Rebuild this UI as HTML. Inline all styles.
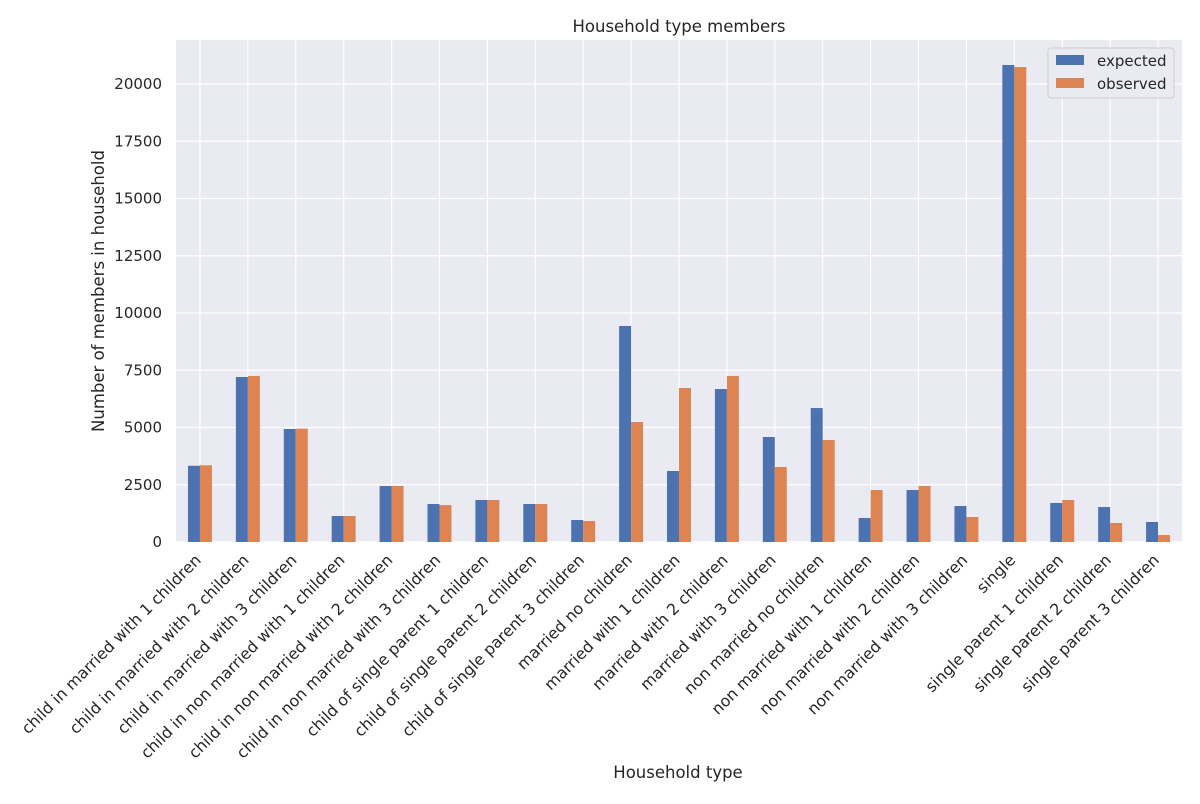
<!DOCTYPE html>
<html><head><meta charset="utf-8"><style>
body{margin:0;background:#fff;font-family:"DejaVu Sans","Liberation Sans",sans-serif;}
</style></head><body>
<svg id="chart" width="1200" height="800" xmlns="http://www.w3.org/2000/svg" font-family="DejaVu Sans, Liberation Sans, sans-serif">
<rect x="176" y="40" width="1006" height="502" fill="#eaeaf2"/>
<g id="grid"></g><g id="bars"></g><g id="ticks"></g>
<text x="679" y="32" text-anchor="middle" font-size="16.5" fill="#262626">Household type members</text>
<text x="678" y="778" text-anchor="middle" font-size="16.5" fill="#262626">Household type</text>
<text transform="translate(104,291) rotate(-90)" text-anchor="middle" font-size="16.5" fill="#262626">Number of members in household</text>
<g>
<rect x="1048" y="48" width="126" height="50" rx="3" fill="#eaeaf2" stroke="#ccc" opacity="0.9"/>
<rect x="1056" y="55" width="28" height="10" fill="#4c72b0"/>
<text x="1097" y="66" font-size="15" fill="#262626">expected</text>
<rect x="1056" y="78" width="28" height="10" fill="#dd8452"/>
<text x="1097" y="89" font-size="15" fill="#262626">observed</text>
</g>
</svg>
<script>
const categories=["child in married with 1 children","child in married with 2 children","child in married with 3 children","child in non married with 1 children","child in non married with 2 children","child in non married with 3 children","child of single parent 1 children","child of single parent 2 children","child of single parent 3 children","married no children","married with 1 children","married with 2 children","married with 3 children","non married no children","non married with 1 children","non married with 2 children","non married with 3 children","single","single parent 1 children","single parent 2 children","single parent 3 children"];
const expected=[3330,7205,4935,1135,2445,1660,1834,1660,960,9432,3100,6680,4585,5850,1048,2270,1572,20830,1703,1528,873];
const observed=[3350,7250,4950,1135,2445,1610,1834,1660,917,5240,6725,7250,3275,4455,2270,2445,1092,20740,1834,830,305];
const yTicks=[0,2500,5000,7500,10000,12500,15000,17500,20000];
const NS="http://www.w3.org/2000/svg";
const x0=176,x1=1182,yBase=542,pxPer=458/20000;
const y=v=>yBase-v*pxPer;
const step=(x1-x0)/categories.length;
const xc=i=>x0+step*(i+0.5);
function mk(t,a,p){const e=document.createElementNS(NS,t);for(const k in a)e.setAttribute(k,a[k]);p.appendChild(e);return e;}
const grid=document.getElementById('grid'),bars=document.getElementById('bars'),ticks=document.getElementById('ticks');
yTicks.forEach(v=>{
 const l=mk('line',{x1:x0,x2:x1,y1:y(v),y2:y(v),stroke:'#fff','stroke-width':1.2},grid);
 
 
 const t=mk('text',{x:x0-14,y:y(v)+5,'text-anchor':'end','font-size':15,fill:'#262626'},ticks);
 t.textContent=v;
 
 
});
const bw=step*0.25;
categories.forEach((c,i)=>{
 const l=mk('line',{x1:xc(i),x2:xc(i),y1:40,y2:yBase,stroke:'#fff','stroke-width':1.2},grid);
 
 
 const b1=mk('rect',{x:xc(i)-bw,y:y(expected[i]),width:bw,height:expected[i]*pxPer,fill:'#4c72b0'},bars);
 
 
 const b2=mk('rect',{x:xc(i),y:y(observed[i]),width:bw,height:observed[i]*pxPer,fill:'#dd8452'},bars);
 
 
 const ax=xc(i)+2, ay=561;
 const t=mk('text',{x:ax,y:ay,'text-anchor':'end','font-size':15.8,fill:'#262626',transform:`rotate(-45 ${ax} ${ay})`},ticks);
 t.textContent=c;
 
 
});
</script>
</body></html>
